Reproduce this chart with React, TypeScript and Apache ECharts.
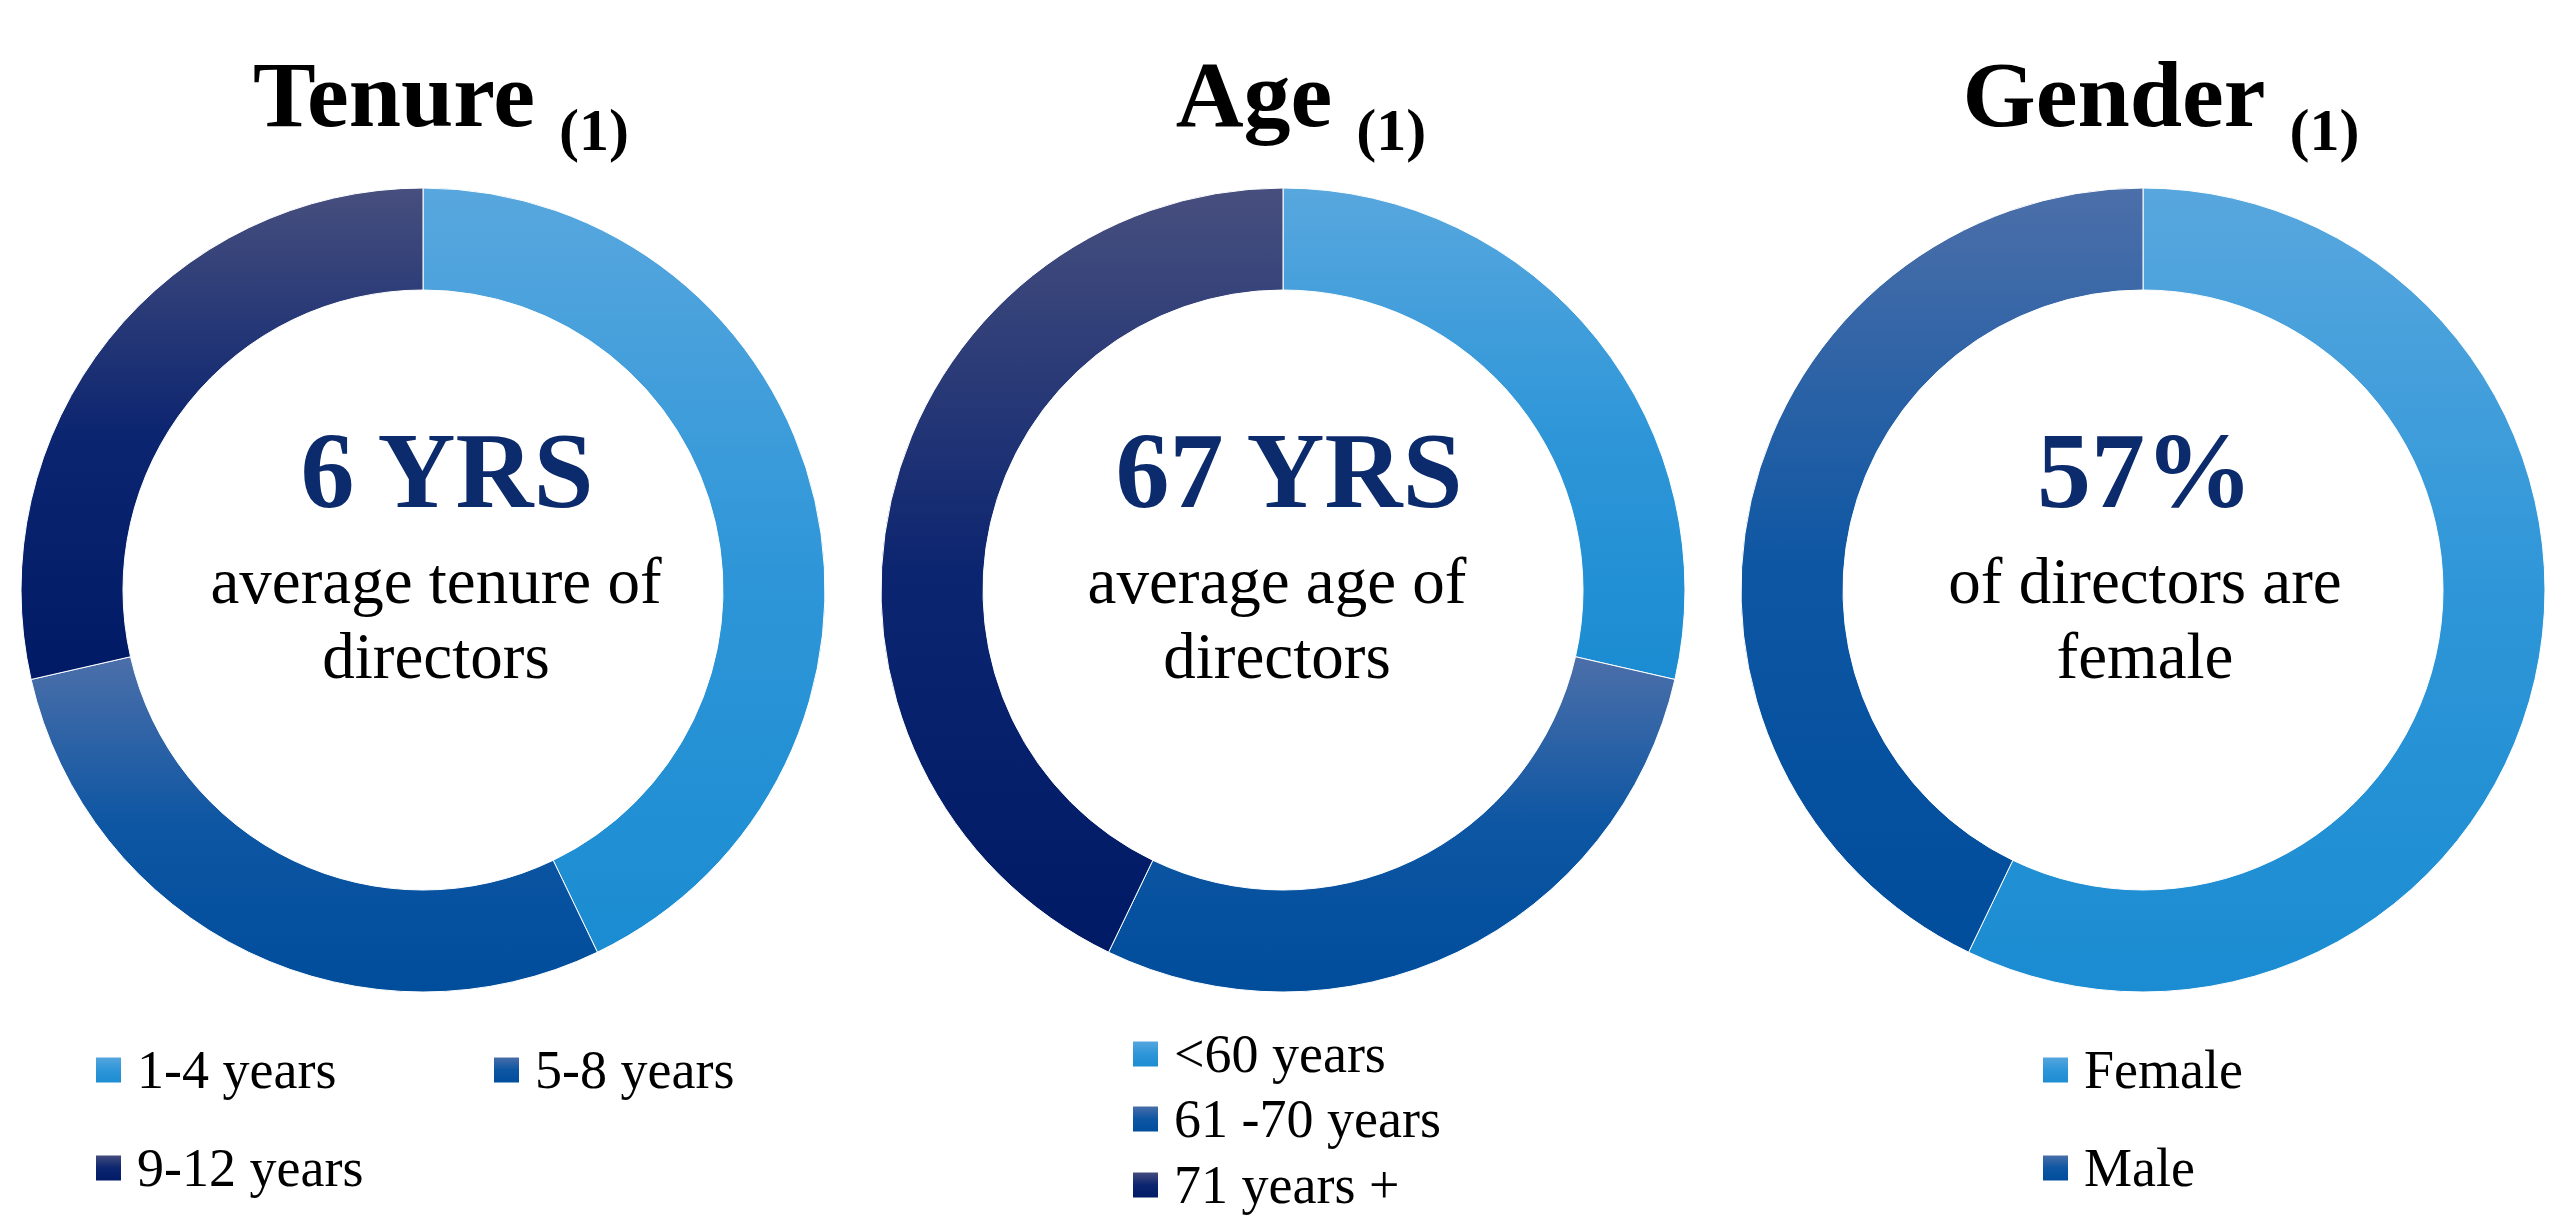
import React, { useEffect, useRef } from "react";
import * as echarts from "echarts";

// ---- data ----
const tenureCategories = ["1-4 years", "5-8 years", "9-12 years"];
const tenureValues = [3, 2, 2];
const ageCategories = ["<60 years", "61 -70 years", "71 years +"];
const ageValues = [2, 2, 3];
const genderCategories = ["Female", "Male"];
const genderValues = [4, 3];

const panelTitles = ["Tenure", "Age", "Gender"];
const panelNote = "(1)";
const headlineValues = ["6 YRS", "67 YRS", "57%"];
const captionLines = [
  ["average tenure of", "directors"],
  ["average age of", "directors"],
  ["of directors are", "female"],
];

// ---- styling / layout ----
const FONT = '"Liberation Serif", "Times New Roman", serif';
const CENTERS_X = [423, 1283, 2143];
const CENTER_Y = 590;
const R_IN = 300;
const R_OUT = 402;
const NAVY = "#0C2B6D";

const LIGHT = ["#58A7DE", "#2E96D8", "#1B8CD2"];
const MID = ["#4C6FA9", "#0D56A3", "#004D9C"];
const DARK = ["#474F7E", "#0C2570", "#001A66"];

const grad = (c: string[]) =>
  new echarts.graphic.LinearGradient(0, 0, 0, 1, [
    { offset: 0, color: c[0] },
    { offset: 0.5, color: c[1] },
    { offset: 1, color: c[2] },
  ]);

// legend item layout: [dx from ring center to icon left, icon center y]
const legendLayouts = [
  [[-329, 1070], [69, 1070], [-329, 1168]],
  [[-152, 1054], [-152, 1119], [-152, 1185]],
  [[-102, 1070], [-102, 1168]],
];
// text offsets per panel: [headline dx, caption dx]
const textOffsets = [
  [24, 13],
  [6, -6],
  [2, 2],
];

function measure(text: string, font: string): number {
  const c = document.createElement("canvas").getContext("2d");
  if (!c) return text.length * 40;
  c.font = font;
  return c.measureText(text).width;
}

export default function App() {
  const ref = useRef<HTMLDivElement>(null);

  useEffect(() => {
    if (!ref.current) return;
    const chart = echarts.init(ref.current, undefined, { renderer: "svg" });

    const panels = [
      { cats: tenureCategories, vals: tenureValues, colors: [LIGHT, MID, DARK] },
      { cats: ageCategories, vals: ageValues, colors: [LIGHT, MID, DARK] },
      { cats: genderCategories, vals: genderValues, colors: [LIGHT, MID] },
    ];

    const series = panels.map((p, i) => ({
      type: "pie" as const,
      name: panelTitles[i],
      center: [CENTERS_X[i], CENTER_Y],
      radius: [R_IN, R_OUT],
      startAngle: 90,
      clockwise: true,
      silent: true,
      label: { show: false },
      labelLine: { show: false },
      emphasis: { disabled: true },
      itemStyle: { borderColor: "#ffffff", borderWidth: 1 },
      data: p.cats.map((c, j) => ({
        name: c,
        value: p.vals[j],
        itemStyle: { color: grad(p.colors[j]) },
      })),
    }));

    const legends: any[] = [];
    panels.forEach((p, i) => {
      p.cats.forEach((c, j) => {
        const [dx, cy] = legendLayouts[i][j];
        legends.push({
          data: [c],
          left: CENTERS_X[i] + dx,
          top: cy - 27,
          orient: "horizontal",
          icon: "rect",
          itemWidth: 27,
          itemHeight: 27,
          padding: 0,
          selectedMode: false,
          textStyle: {
            fontFamily: FONT,
            fontSize: 54,
            lineHeight: 54,
            color: "#000000",
            padding: [0, 0, 0, 10],
          },
        });
      });
    });

    const graphics: any[] = [];
    const titleFont = `bold 94px ${FONT}`;
    const noteFont = `bold 60px ${FONT}`;
    panelTitles.forEach((t, i) => {
      const wT = measure(t, titleFont);
      const wN = measure(panelNote, noteFont);
      const gap = 24;
      const total = wT + gap + wN;
      const start = CENTERS_X[i] + 18 - total / 2;
      graphics.push({
        type: "text",
        x: start,
        y: 94,
        style: {
          text: t,
          fontFamily: FONT,
          fontWeight: "bold",
          fontSize: 94,
          fill: "#000000",
          align: "left",
          verticalAlign: "middle",
        },
      });
      graphics.push({
        type: "text",
        x: start + wT + gap,
        y: 130,
        style: {
          text: panelNote,
          fontFamily: FONT,
          fontWeight: "bold",
          fontSize: 60,
          fill: "#000000",
          align: "left",
          verticalAlign: "middle",
        },
      });
      graphics.push({
        type: "text",
        x: CENTERS_X[i] + textOffsets[i][0],
        y: 470,
        style: {
          text: headlineValues[i],
          fontFamily: FONT,
          fontWeight: "bold",
          fontSize: 108,
          fill: NAVY,
          align: "center",
          verticalAlign: "middle",
        },
      });
      captionLines[i].forEach((line, k) => {
        graphics.push({
          type: "text",
          x: CENTERS_X[i] + textOffsets[i][1],
          y: 581 + k * 75,
          style: {
            text: line,
            fontFamily: FONT,
            fontSize: 65,
            fill: "#000000",
            align: "center",
            verticalAlign: "middle",
          },
        });
      });
    });

    chart.setOption({
      animation: false,
      backgroundColor: "#ffffff",
      legend: legends,
      series,
      graphic: graphics,
    });

    return () => chart.dispose();
  }, []);

  return (
    <div
      ref={ref}
      style={{ position: "absolute", left: 0, top: 0, width: 2565, height: 1219 }}
    />
  );
}
